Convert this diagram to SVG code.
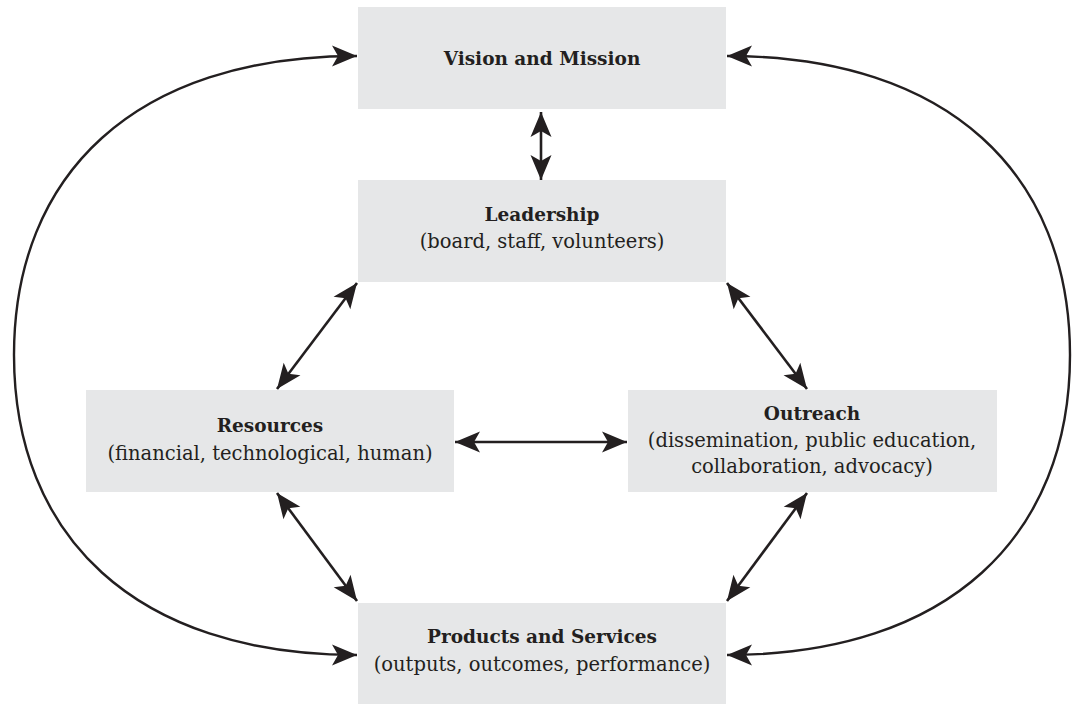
<svg xmlns="http://www.w3.org/2000/svg" width="1075" height="704" viewBox="0 0 1075 704">
<style>
.box{fill:#e6e7e8}
.t{font-family:"DejaVu Serif","Liberation Serif",serif;font-size:19.5px;fill:#231f20;text-anchor:middle}
.b{font-weight:bold;font-size:18.5px}
.c{fill:none;stroke:#231f20;stroke-width:2.4;marker-start:url(#ah);marker-end:url(#ah)}
.a{stroke-width:2.6}
</style>
<defs>
<marker id="ah" markerUnits="userSpaceOnUse" markerWidth="30" markerHeight="30" refX="0" refY="0" orient="auto-start-reverse" overflow="visible" viewBox="-30 -15 30 30">
<path d="M0,0 L-25,-10.5 L-19,0 L-25,10.5 Z" fill="#231f20"/>
</marker>
</defs>
<rect width="1075" height="704" fill="#fff"/>
<g id="vision"><rect class="box" x="358" y="7" width="368" height="102"/><text class="t b" x="542" y="65">Vision and Mission</text></g>
<g id="leadership"><rect class="box" x="358" y="180" width="368" height="102"/><text class="t b" x="542" y="221">Leadership</text><text class="t" x="542" y="248">(board, staff, volunteers)</text></g>
<g id="resources"><rect class="box" x="86" y="390" width="368" height="102"/><text class="t b" x="270" y="432">Resources</text><text class="t" x="270" y="460">(financial, technological, human)</text></g>
<g id="outreach"><rect class="box" x="628" y="390" width="369" height="102"/><text class="t b" x="812" y="420">Outreach</text><text class="t" x="812" y="447">(dissemination, public education,</text><text class="t" x="812" y="473">collaboration, advocacy)</text></g>
<g id="products"><rect class="box" x="358" y="603" width="368" height="101"/><text class="t b" x="542" y="643">Products and Services</text><text class="t" x="542" y="671">(outputs, outcomes, performance)</text></g>
<g id="connectors">
<path class="c a" d="M541,112 L541,180"/>
<path class="c a" d="M277,389 L357,283"/>
<path class="c a" d="M807,389 L727,283"/>
<path class="c a" d="M455,442 L627,442"/>
<path class="c a" d="M277,493 L357,601"/>
<path class="c a" d="M807,493 L727,601"/>
<path class="c" d="M357,56 C134,56 14,175 14,355 C14,535 134,655 357,655"/>
<path class="c" d="M727,56 C950,56 1070,175 1070,355 C1070,535 950,655 727,655"/>
</g>
</svg>
